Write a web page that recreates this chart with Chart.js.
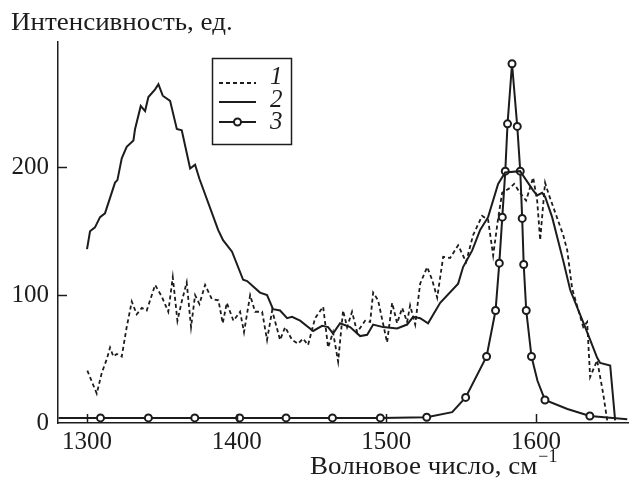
<!DOCTYPE html>
<html>
<head>
<meta charset="utf-8">
<script src="https://cdn.jsdelivr.net/npm/chart.js@4"></script>
<style>body{margin:0;background:#fff}</style>
</head>
<body>
<canvas id="myChart" width="636" height="479"></canvas>
<script>
// curve 1 (dashed)
const wave1 = [1300.2,1306.5,1309.8,1313.2,1315.4,1317.6,1319.9,1323.2,1326.5,1329.9,1333.2,1336.6,1339.9,1345.5,1349.9,1354.3,1357.3,1360.4,1363.3,1366.6,1369.5,1372.2,1375.1,1378.9,1383.4,1387.8,1390.7,1393.4,1397.8,1402.3,1404.9,1409,1412.3,1417,1420.3,1423.7,1429,1432.4,1437,1441,1444.4,1447.7,1452.4,1457.8,1461.1,1464.4,1467.8,1471.1,1473.8,1477.1,1480.5,1485.8,1489.2,1491.2,1494.5,1500.5,1503.9,1507.2,1510.6,1513.9,1515.9,1519.3,1522.6,1527.3,1530.6,1534,1538,1542.6,1548,1553.3,1558,1564,1568,1571.4,1574.7,1577.4,1582.8,1585.4,1589.4,1593.4,1598.1,1600.8,1602.8,1604.1,1606.1,1608.2,1618.2,1620.9,1624.2,1631.6,1634.2,1636.2,1640.9,1644.9,1647.6];
const intens1 = [41,23,39,50,59,52,54,52,75,95,85,90,88,108,99,87,114,80,95,110,75,100,93,108,97,96,78,94,80,87,71,100,87,87,65,88,65,75,65,62,66,61,82,91,59,71,48,88,75,87,71,80,79,102,96,63,94,78,90,79,92,77,109,122,112,98,130,129,139,126,147,162,159,131,160,180,184,187,180,174,192,174,143,161,188,180,147,135,105,75,79,36,49,23,2];

// curve 2 (solid)
const wave2 = [1300,1302,1305.3,1308.7,1312,1318.7,1320.3,1323.2,1326.5,1331,1332.1,1335.9,1338.8,1341,1345.5,1347.7,1350.6,1355.5,1360,1363.3,1368.9,1372.2,1375.1,1387.6,1390.9,1396.9,1404.3,1407,1415.6,1420.3,1424.3,1429,1433.7,1437,1442.4,1451.1,1457.1,1461.1,1464.4,1469.1,1475.8,1482.5,1487.2,1491.2,1497.9,1507.2,1513.9,1517.9,1522.6,1527.9,1536,1548,1551.3,1557.4,1562.7,1568,1574.7,1579.4,1589.4,1598.1,1600.8,1604.1,1606.1,1610.8,1618.2,1622.9,1634.2,1640.9,1642.9,1649.6,1652.9];
const intens2 = [136,150,153,161,164,188,190,207,216,221,230,248,244,255,261,265,256,252,230,229,199,202,191,151,143,134,112,111,102,100,89,88,82,83,80,72,76,75,70,78,75,68,69,77,75,74,77,83,82,78,94,109,122,135,151,161,187,196,197,182,178,180,177,161,127,104,71,51,47,45,2];

// curve 3 (solid with markers)
const wave3 = [1281,1309,1341,1372,1402,1433,1464,1496,1527,1544,1553,1567,1573,1575.5,1577.5,1579.5,1581,1584,1587.5,1589.5,1590.8,1591.8,1593.5,1597,1601,1606,1621,1636,1661];
const intens3 = [4,4,4,4,4,4,4,4,4.5,8.5,20,52,88,125,161,197,234,281,232,197,160,124,88,52,33,18,11,5.5,3];
const marks3 = [0,1,1,1,1,1,1,1,1,0,1,1,1,1,1,1,1,1,1,1,1,1,1,1,0,1,0,1,0];

const xTicks = [1300, 1400, 1500, 1600];
const yTicks = [0, 100, 200];
const legendLabels = ['1', '2', '3'];

const pts = (xs, ys) => xs.map((x, i) => ({x: x, y: ys[i]}));
const ink = '#1c1c1c';
const serif = '"Liberation Serif", "Times New Roman", Times, serif';

// text a little wider than the font, like the scan
const wideText = (ctx, s, x, y, k) => {
  ctx.save();
  ctx.translate(x, y);
  ctx.scale(k, 1);
  ctx.fillText(s, 0, 0);
  ctx.restore();
  return ctx.measureText(s).width * k;
};

const decor = {
  id: 'decor',
  afterDraw(chart) {
    const ctx = chart.ctx;
    const xs = chart.scales.x, ys = chart.scales.y;
    const a = chart.chartArea;
    ctx.save();
    ctx.strokeStyle = ink;
    ctx.fillStyle = ink;
    ctx.lineWidth = 1.5;
    // inward tick marks
    xTicks.forEach(v => {
      const px = Math.round(xs.getPixelForValue(v)) + 0.5;
      ctx.beginPath(); ctx.moveTo(px, a.bottom); ctx.lineTo(px, a.bottom - 9); ctx.stroke();
    });
    yTicks.forEach(v => {
      if (v === 0) return;
      const py = Math.round(ys.getPixelForValue(v)) + 0.5;
      ctx.beginPath(); ctx.moveTo(a.left, py); ctx.lineTo(a.left + 9, py); ctx.stroke();
    });
    // axis titles
    ctx.font = '25px ' + serif;
    ctx.textBaseline = 'alphabetic';
    ctx.textAlign = 'left';
    wideText(ctx, 'Интенсивность, ед.', 11, 29.5, 1.08);
    const w = wideText(ctx, 'Волновое число, см', 310, 474, 1.08);
    ctx.font = '18px ' + serif;
    ctx.fillText('\u22121', 310 + w + 1, 462);
    // legend
    ctx.lineWidth = 1.5;
    ctx.strokeRect(212.5, 58.5, 79, 86);
    const ly = [83, 102, 122];
    const ty = [77, 100, 122];
    ctx.lineWidth = 2;
    ly.forEach((y, i) => {
      ctx.setLineDash(i === 0 ? [4, 3] : []);
      ctx.beginPath(); ctx.moveTo(219, y); ctx.lineTo(256, y); ctx.stroke();
    });
    ctx.setLineDash([]);
    ctx.beginPath(); ctx.arc(237.5, 122, 3.5, 0, Math.PI * 2);
    ctx.fillStyle = '#fff'; ctx.fill(); ctx.stroke();
    ctx.fillStyle = ink;
    ctx.font = 'italic 25px ' + serif;
    ctx.textBaseline = 'middle';
    legendLabels.forEach((s, i) => ctx.fillText(s, 270, ty[i]));
    ctx.restore();
  }
};

const draw = () => {
  const ctx = document.getElementById('myChart');
  new Chart(ctx, {
    type: 'line',
    data: {
      datasets: [
        {
          label: '1',
          data: pts(wave1, intens1),
          borderColor: ink,
          borderWidth: 1.8,
          borderDash: [4, 3],
          pointRadius: 0,
          tension: 0
        },
        {
          label: '2',
          data: pts(wave2, intens2),
          borderColor: ink,
          borderWidth: 2,
          pointRadius: 0,
          tension: 0
        },
        {
          label: '3',
          data: pts(wave3, intens3),
          borderColor: ink,
          borderWidth: 2,
          pointRadius: marks3.map(m => m ? 3.5 : 0),
          pointBorderWidth: 2,
          pointBorderColor: ink,
          pointBackgroundColor: '#fff',
          tension: 0
        }
      ]
    },
    options: {
      responsive: false,
      animation: false,
      events: [],
      layout: {
        padding: { left: 0, right: 8, top: 42, bottom: 0 }
      },
      plugins: {
        legend: { display: false },
        tooltip: { enabled: false }
      },
      scales: {
        x: {
          type: 'linear',
          min: 1280.6,
          max: 1661.5,
          afterBuildTicks: s => { s.ticks = xTicks.map(v => ({value: v})); },
          afterFit: s => { s.height = 56; },
          grid: { display: false, drawTicks: false },
          border: { display: true, color: ink, width: 1.5 },
          ticks: {
            color: ink,
            padding: 4,
            maxRotation: 0,
            callback: v => String(v),
            font: { family: serif, size: 25 }
          }
        },
        y: {
          min: 0,
          max: 298,
          afterBuildTicks: s => { s.ticks = yTicks.map(v => ({value: v})); },
          afterFit: s => { s.width = 58; },
          grid: { display: false, drawTicks: false },
          border: { display: true, color: ink, width: 1.5 },
          ticks: {
            color: ink,
            padding: 9,
            callback: v => String(v),
            font: { family: serif, size: 25 }
          }
        }
      }
    },
    plugins: [decor]
  });
};

Promise.all([
  document.fonts.load('25px "Liberation Serif"'),
  document.fonts.load('italic 25px "Liberation Serif"')
]).then(draw, draw);
</script>
</body>
</html>
